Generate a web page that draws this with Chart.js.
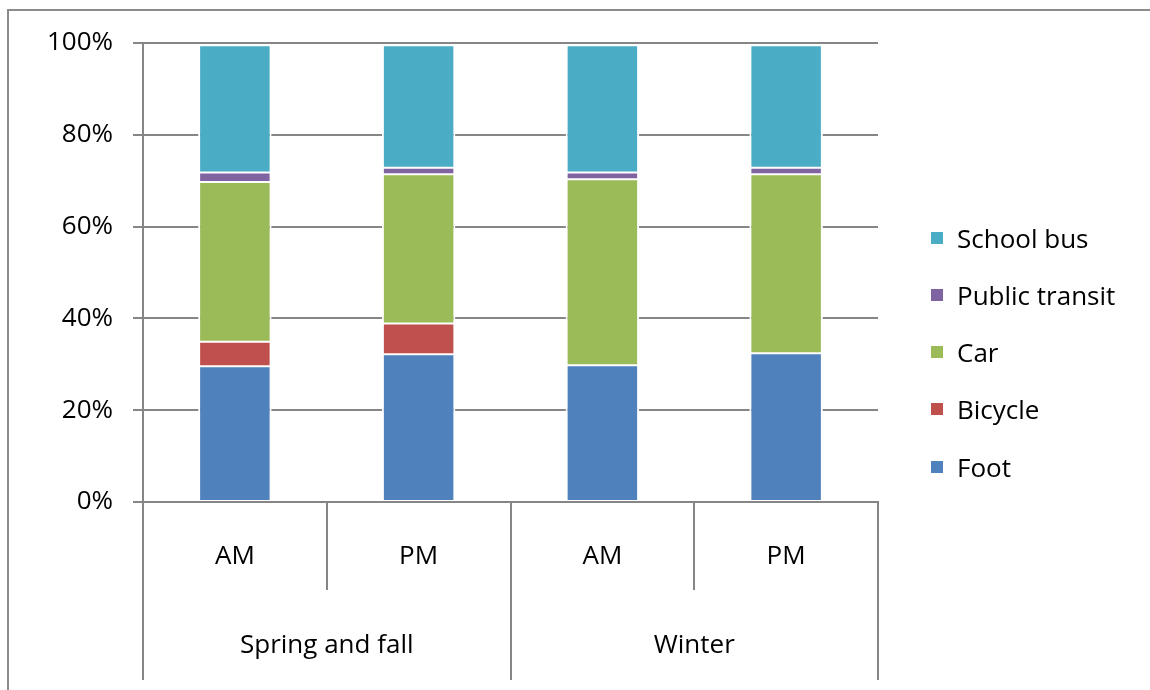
<!DOCTYPE html>
<html>
<head>
<meta charset="utf-8">
<title>Travel mode to school</title>
<script src="https://cdn.jsdelivr.net/npm/chart.js@4.4.1/dist/chart.umd.min.js"></script>
<style>
  html, body { margin: 0; padding: 0; background: #fff; }
  #wrap { position: relative; width: 1150px; height: 690px; overflow: hidden; font-family: "Open Sans", sans-serif; }
  #frame { position: absolute; left: 7px; top: 9px; width: 1200px; height: 720px;
           border-left: 2px solid #8c8c8c; border-top: 2px solid #8c8c8c; }
  #chart { position: absolute; left: 0; top: 0; }
  #legend { position: absolute; left: 931px; top: 209px; margin: 0; padding: 0; list-style: none; }
  #legend li { height: 57.25px; display: flex; align-items: center; font-size: 26px; color: #000; white-space: nowrap; }
  #legend .sw { width: 12px; height: 12px; margin-right: 14px; flex: none; }
</style>
</head>
<body>
<div id="wrap">
  <div id="frame"></div>
  <canvas id="chart" width="1150" height="690"></canvas>
  <ul id="legend"></ul>
</div>
<script>
// Categories: time of day, grouped by season
const periods = ['AM', 'PM', 'AM', 'PM'];
const seasons = ['Spring and fall', 'Winter'];
const yTicks = [0, 20, 40, 60, 80, 100];

// Share of trips (%) per travel mode
const foot          = [29.6, 32.2, 29.8, 32.4];
const bicycle       = [5.3, 6.7, 0, 0];
const car           = [34.8, 32.5, 40.5, 39.0];
const publicTransit = [2.1, 1.4, 1.5, 1.4];
const schoolBus     = [27.7, 26.7, 27.7, 26.7];

const axisGray = '#868686';
const fontFamily = "'Open Sans', sans-serif";
const periodsPerSeason = periods.length / seasons.length;

const barStyle = {
  borderColor: '#ffffff',
  borderWidth: { top: 1, bottom: 1, left: 2, right: 2 },
  borderSkipped: false,
  barPercentage: 0.4,
  categoryPercentage: 1.0
};

const datasets = [
  { label: 'Foot',           data: foot,          backgroundColor: '#4F81BD' },
  { label: 'Bicycle',        data: bicycle,       backgroundColor: '#C0504D' },
  { label: 'Car',            data: car,           backgroundColor: '#9BBB59' },
  { label: 'Public transit', data: publicTransit, backgroundColor: '#8064A2' },
  { label: 'School bus',     data: schoolBus,     backgroundColor: '#4BACC6' }
].map(d => Object.assign({}, barStyle, d));

const chart = new Chart(document.getElementById('chart'), {
  type: 'bar',
  data: { labels: periods, datasets },
  options: {
    responsive: false,
    animation: false,
    layout: { padding: { left: 0, top: 43, right: 272, bottom: 10 } },
    plugins: {
      legend: { display: false },
      tooltip: { enabled: false }
    },
    scales: {
      y: {
        stacked: true,
        min: 0,
        max: 100,
        afterBuildTicks: s => { s.ticks = yTicks.map(v => ({ value: v })); },
        afterFit: s => { s.width = 143; },
        grid: { color: axisGray, lineWidth: 2, tickLength: 10 },
        border: { color: axisGray, width: 2 },
        ticks: {
          padding: 20,
          color: '#000',
          font: { family: fontFamily, size: 26 },
          callback: v => v + '%'
        }
      },
      x: {
        stacked: true,
        offset: true,
        weight: 0,
        grid: { offset: true, drawOnChartArea: false, tickLength: 88, color: axisGray, lineWidth: 2 },
        border: { color: axisGray, width: 2 },
        ticks: {
          padding: -49,
          color: '#000',
          autoSkip: false,
          maxRotation: 0,
          font: { family: fontFamily, size: 26 }
        },
        afterFit: s => { s.height = 88; }
      },
      // Season group axis: boundaries every two periods, names centred in each group
      season: {
        type: 'linear',
        position: 'bottom',
        weight: 1,
        offset: false,
        min: 0,
        max: periods.length,
        afterBuildTicks: s => {
          const t = [];
          for (let v = 0; v <= periods.length; v++) t.push({ value: v });
          s.ticks = t;
        },
        afterFit: s => { s.height = 90; },
        grid: {
          offset: false,
          drawOnChartArea: false,
          tickLength: 90,
          lineWidth: 2,
          color: ctx => (ctx.tick && ctx.tick.value % periodsPerSeason === 0) ? axisGray : 'rgba(0,0,0,0)'
        },
        border: { display: false },
        ticks: {
          padding: -50,
          color: '#000',
          autoSkip: false,
          maxRotation: 0,
          font: { family: fontFamily, size: 26 },
          callback: v => {
            const half = periodsPerSeason / 2;
            const idx = (v - half) / periodsPerSeason;
            return Number.isInteger(idx) ? seasons[idx] : '';
          }
        }
      }
    }
  }
});

// Legend built from the chart's own legend items, top entry = top of stack
const legendEl = document.getElementById('legend');
const items = Chart.defaults.plugins.legend.labels.generateLabels(chart).slice().reverse();
items.forEach(it => {
  const li = document.createElement('li');
  const sw = document.createElement('span');
  sw.className = 'sw';
  sw.style.background = it.fillStyle;
  li.appendChild(sw);
  li.appendChild(document.createTextNode(it.text));
  legendEl.appendChild(li);
});
</script>
</body>
</html>
